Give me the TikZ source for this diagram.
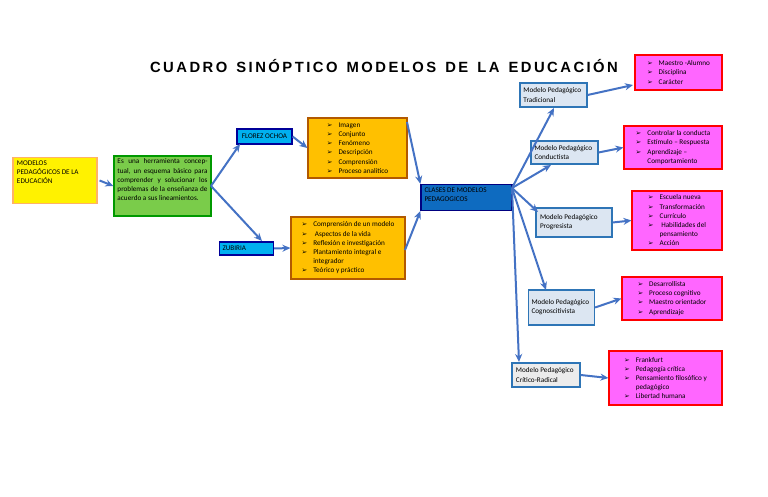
\documentclass[tikz,border=0pt]{standalone}
\usepackage{fontspec}
\setmainfont{Carlito}
\newfontfamily\dvs{DejaVu Sans}
\newfontfamily\titlefont{Liberation Sans}
\usetikzlibrary{arrows.meta}
\definecolor{arr}{HTML}{4472C4}
\definecolor{lb}{HTML}{DCE6F2}
\definecolor{lbd}{HTML}{2E75B6}
\definecolor{mag}{HTML}{FF66FF}
\definecolor{org}{HTML}{FFC000}
\definecolor{grn}{HTML}{7ACC4A}
\definecolor{cyn}{HTML}{00B0F0}
\definecolor{dblue}{HTML}{0E6BC0}
\newcommand{\bl}{{\dvs\fontsize{3.4}{4}\selectfont ➢}\hspace{3pt}}
\newcommand{\bx}[6]{\node[#1, minimum width={(#4-#2)*0.5pt}, minimum height={(#5-#3)*0.5pt}] (#6) at ({(#2+#4)/2},{(#3+#5)/2})}
\begin{document}
\begin{tikzpicture}[x=0.5pt,y=-0.5pt,
  base/.style={draw, line width=0.6pt, inner sep=1.5pt, align=left, font=\fontsize{3.6}{4.6}\selectfont},
  yel/.style={base, fill=yellow, draw=orange!60},
  grnb/.style={base, fill=grn, draw=green!60!black},
  cyb/.style={base, fill=cyn, draw=blue!60!black},
  orb/.style={base, fill=org, draw=orange!70!black},
  clb/.style={base, fill=dblue, draw=blue!50!black},
  mb/.style={base, fill=lb, draw=lbd},
  pk/.style={base, fill=mag, draw=red},
  ar/.style={draw=arr, line width=1pt, -{Stealth[length=4pt,width=3.5pt]}}]
\useasboundingbox (0,0) rectangle (768,497);
\node[font=\titlefont\bfseries\fontsize{7.4}{8}\selectfont] (title) at (384,66) {C\,U\,A\,D\,R\,O\, \,S\,I\,N\,Ó\,P\,T\,I\,C\,O\, \,M\,O\,D\,E\,L\,O\,S\, \,D\,E\, \,L\,A\, \,E\,D\,U\,C\,A\,C\,I\,Ó\,N};
\bx{yel}{13}{158}{97}{203}{a} {\parbox[t][20pt][t]{38pt}{MODELOS\\PEDAGÓGICOS DE LA\\EDUCACIÓN}};
\bx{grnb}{114}{156}{211}{216}{b} {\parbox[t][27pt][t]{45pt}{Es una herramienta conceptual, un esquema básico para comprender y solucionar los problemas de la enseñanza de acuerdo a sus lineamientos.}};
\bx{cyb}{237}{129}{292}{144}{f} {FLOREZ OCHOA};
\bx{cyb}{220}{242}{273}{255}{z} {\parbox{24pt}{ZUBIRIA}};
\bx{orb}{308}{118}{407}{178}{o1} {\bl Imagen\\\bl Conjunto\\\bl Fenómeno\\\bl Descripción\\\bl Comprensión\\\bl Proceso analítico};
\bx{orb}{291}{217}{405}{279}{o2} {\bl Comprensión de un modelo\\\bl\ Aspectos de la vida\\\bl Reflexión e investigación\\\bl Plantamiento integral e\\\phantom{\bl}integrador\\\bl Teórico y práctico};
\bx{clb}{421}{185}{512}{210}{c} {\parbox[t][10pt][t]{42pt}{CLASES DE MODELOS\\PEDAGOGICOS}};
\bx{mb}{520}{83}{587}{107}{m1} {\parbox{30pt}{Modelo Pedagógico\\Tradicional}};
\bx{mb}{531}{141}{598}{164}{m2} {\parbox{30pt}{Modelo Pedagógico\\Conductista}};
\bx{mb}{536}{208}{612}{237}{m3} {\parbox{34pt}{Modelo Pedagógico\\Progresista}};
\bx{mb}{529}{290}{594}{325}{m4} {\parbox{30pt}{Modelo Pedagógico\\Cognoscitivista}};
\bx{mb,fill=gray!15}{512}{363}{580}{387}{m5} {\parbox{30pt}{Modelo Pedagógico\\Crítico-Radical}};
\bx{pk}{635}{55}{722}{90}{p1} {\bl Maestro -Alumno\\\bl Disciplina\\\bl Carácter};
\bx{pk}{624}{126}{722}{169}{p2} {\bl Controlar la conducta\\\bl Estímulo -- Respuesta\\\bl Aprendizaje --\\\phantom{\bl}Comportamiento};
\bx{pk}{632}{191}{722}{250}{p3} {\bl Escuela nueva\\\bl Transformación\\\bl Currículo\\\bl\ Habilidades del\\\phantom{\bl}pensamiento\\\bl Acción};
\bx{pk}{622}{277}{722}{320}{p4} {\bl Desarrollista\\\bl Proceso cognitivo\\\bl Maestro orientador\\\bl Aprendizaje};
\bx{pk}{609}{351}{722}{405}{p5} {\bl Frankfurt\\\bl Pedagogía crítica\\\bl Pensamiento filosófico y\\\phantom{\bl}pedagógico\\\bl Libertad humana};
\draw[ar] (a.east) ++(2,0) -- (b.west);
\coordinate (bo) at (211,186);
\draw[ar] (bo) -- (240,144);
\draw[ar] (bo) -- (262,241);
\draw[ar] (f.east) -- (o1.west);
\draw[ar] (z.east) -- (o2.west);
\draw[ar] (407,122) -- (c.north west);
\draw[ar] (405,250) -- (c.south west);
\coordinate (cr) at (512,188);
\draw[ar] (cr) -- (554,108);
\draw[ar] (cr) -- (551,165);
\draw[ar] (cr) -- (538,212);
\draw[ar] (cr) -- (546,290);
\draw[ar] (cr) -- (519,362);
\draw[ar] (m1.east) -- (633,85);
\draw[ar] (m2.east) -- (p2.west);
\draw[ar] (m3.east) -- (p3.west);
\draw[ar] (m4.east) -- (p4.west);
\draw[ar] (m5.east) -- (p5.west);
\end{tikzpicture}
\end{document}
